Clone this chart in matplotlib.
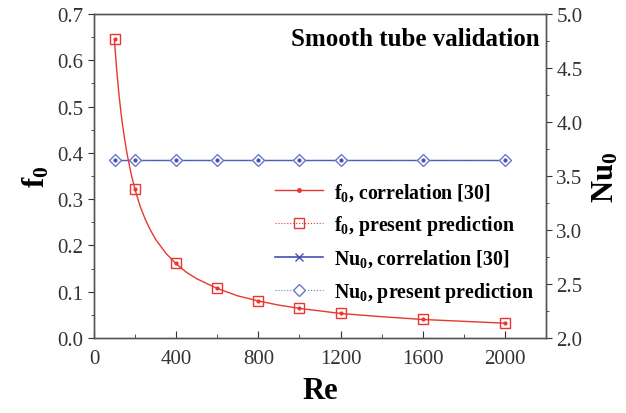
import matplotlib
matplotlib.use("Agg")
import matplotlib.pyplot as plt
from matplotlib.lines import Line2D
from matplotlib.ticker import MultipleLocator

plt.rcParams["font.family"] = ["Liberation Serif", "DejaVu Serif"]
plt.rcParams["mathtext.fontset"] = "custom"
plt.rcParams["mathtext.rm"] = "Liberation Serif"
plt.rcParams["mathtext.bf"] = "Liberation Serif:bold"

# correlation curve
re_corr = [100, 110, 120, 130, 140, 150, 160, 180, 200, 225, 250, 275,
           300, 350, 400, 450, 500, 600, 700, 800, 900, 1000, 1200, 1400,
           1600, 1800, 2000]
f_corr = [0.640, 0.582, 0.533, 0.492, 0.457, 0.427, 0.400, 0.356, 0.320,
          0.284, 0.256, 0.233, 0.213, 0.183, 0.160, 0.142, 0.128, 0.107,
          0.091, 0.080, 0.071, 0.064, 0.053, 0.046, 0.040, 0.036, 0.032]

# simulated points
re_pts = [100, 200, 400, 600, 800, 1000, 1200, 1600, 2000]
f_pred = [0.645, 0.322, 0.161, 0.107, 0.080, 0.064, 0.054, 0.040, 0.032]
nu_corr = [3.65, 3.65, 3.65, 3.65, 3.65, 3.65, 3.65, 3.65, 3.65]
nu_pred = [3.65, 3.65, 3.65, 3.65, 3.65, 3.65, 3.65, 3.65, 3.65]

red = "#e8372f"
blue = "#4352b0"
lblue = "#6a78c8"

fig = plt.figure(figsize=(6.26, 4.14), dpi=100)
ax = fig.add_axes([94 / 626, 1 - 339 / 414, 452 / 626, 324 / 414])
ax2 = ax.twinx()

ax.plot(re_corr, f_corr, color=red, lw=1.0, zorder=3)
ax.plot(re_pts, f_pred, ls="none", marker="s", ms=6.5,
        mfc="none", mec=red, mew=1.0, zorder=4)
ax.plot(re_pts, f_pred, ls="none", marker=".", ms=4, color=red, zorder=5)

ax2.plot(re_pts, nu_corr, color=blue, lw=1.0, marker="x", ms=5, zorder=3)
ax2.plot(re_pts, nu_pred, color=lblue, lw=0.8, ls=":", marker="D", ms=6.5,
         mfc="white", mec=lblue, mew=1.0, zorder=4)
ax2.plot(re_pts, nu_pred, ls="none", marker=".", ms=4, color=blue, zorder=5)

ax.set_xlim(0, 2200)
ax.set_ylim(0, 0.7)
ax2.set_ylim(2.0, 5.0)
ax.set_xticks([0, 400, 800, 1200, 1600, 2000])
ax.xaxis.set_minor_locator(MultipleLocator(200))
ax.yaxis.set_major_locator(MultipleLocator(0.1))
ax.yaxis.set_minor_locator(MultipleLocator(0.05))
ax2.yaxis.set_major_locator(MultipleLocator(0.5))
ax2.yaxis.set_minor_locator(MultipleLocator(0.25))
ax.yaxis.set_major_formatter(plt.FormatStrFormatter("%.1f"))
ax2.yaxis.set_major_formatter(plt.FormatStrFormatter("%.1f"))

ax.tick_params(axis="x", which="both", direction="in", labelsize=15,
               colors="#333333", pad=8)
ax.tick_params(axis="x", which="major", length=5)
ax.tick_params(axis="x", which="minor", length=3)
ax.tick_params(axis="y", which="both", direction="out", labelsize=15,
               colors="#333333")
ax.tick_params(axis="y", which="major", length=4)
ax.tick_params(axis="y", which="minor", length=2)
ax2.tick_params(axis="y", which="both", direction="out", labelsize=15,
                colors="#333333")
ax2.tick_params(axis="y", which="major", length=4)
ax2.tick_params(axis="y", which="minor", length=2)
for a in (ax, ax2):
    for s in a.spines.values():
        s.set_color("#555555")
        s.set_linewidth(1.0)

ax.set_xlabel("Re", fontsize=22, fontweight="bold", labelpad=6)
ax.set_ylabel(r"$\mathbf{f_0}$", fontsize=22, labelpad=4)
ax2.set_ylabel(r"$\mathbf{Nu_0}$", fontsize=22, labelpad=6)

ax.text(0.985, 0.925, "Smooth tube validation", transform=ax.transAxes,
        ha="right", va="center", fontsize=18, fontweight="bold")

handles = [
    Line2D([], [], color=red, lw=1.0, marker=".", ms=5),
    Line2D([], [], color=red, lw=0.8, ls=":", marker="s", ms=6.5,
           mfc="none", mec=red),
    Line2D([], [], color=blue, lw=1.2, marker="x", ms=6),
    Line2D([], [], color=lblue, lw=0.8, ls=":", marker="D", ms=6.5,
           mfc="white", mec=lblue),
]
labels = [r"$\mathbf{f_0}$, correlation [30]",
          r"$\mathbf{f_0}$, present prediction",
          r"$\mathbf{Nu_0}$, correlation [30]",
          r"$\mathbf{Nu_0}$, present prediction"]
leg = ax.legend(handles, labels, loc="upper left",
                bbox_to_anchor=(275 / 626, 1 - 182 / 414),
                bbox_transform=fig.transFigure, frameon=False,
                prop={"weight": "bold", "size": 14.3}, handlelength=2.4,
                handletextpad=0.55, labelspacing=0.52, borderpad=0,
                borderaxespad=0)
ax.set_zorder(ax2.get_zorder() + 1)
ax.patch.set_visible(False)

fig.savefig("out.png", dpi=100)
